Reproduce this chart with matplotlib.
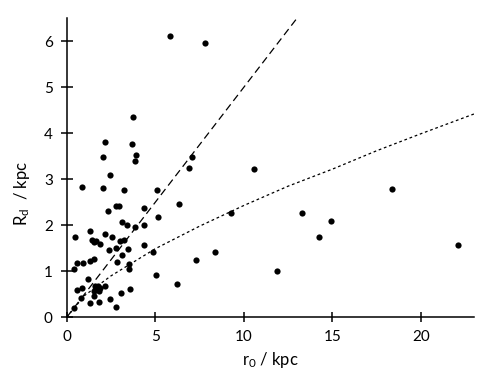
import matplotlib
matplotlib.use('Agg')
import matplotlib.pyplot as plt

plt.rcParams['font.family'] = ['Lato', 'DejaVu Sans']

# galaxies: scale radius r0 vs disc scale length Rd (kpc)
r0 = [5.84, 7.81, 3.76, 2.18, 3.70, 3.92, 2.07, 7.08, 3.87, 6.91,
      10.57, 2.46, 0.88, 2.07, 3.25, 5.11, 18.35, 6.35, 2.80, 2.93,
      4.38, 2.35, 9.28, 13.28, 5.16, 14.91, 3.14, 3.42, 4.38, 3.87,
      1.33, 2.18, 0.49, 2.57, 14.23, 1.45, 1.56, 1.67, 3.25, 3.02,
      1.86, 2.80, 4.38, 22.12, 2.40, 3.47, 4.88, 8.38, 3.14, 1.56,
      7.31, 1.33, 2.85, 0.60, 0.94, 3.53, 3.53, 0.43, 11.87, 5.05,
      6.23, 1.22, 2.18, 1.62, 1.78, 1.67, 1.90, 1.56, 1.84, 0.88,
      0.60, 3.59, 3.08, 1.56, 0.83, 2.46, 1.33, 1.84, 0.43, 2.80]
Rd = [6.11, 5.96, 4.35, 3.80, 3.76, 3.52, 3.48, 3.48, 3.39, 3.24,
      3.22, 3.09, 2.83, 2.80, 2.76, 2.76, 2.78, 2.46, 2.43, 2.43,
      2.37, 2.30, 2.26, 2.26, 2.17, 2.09, 2.07, 2.00, 2.00, 1.96,
      1.87, 1.80, 1.75, 1.74, 1.74, 1.67, 1.63, 1.65, 1.67, 1.65,
      1.59, 1.51, 1.57, 1.57, 1.46, 1.48, 1.43, 1.41, 1.35, 1.26,
      1.24, 1.22, 1.20, 1.17, 1.17, 1.15, 1.04, 1.04, 1.00, 0.92,
      0.72, 0.84, 0.67, 0.69, 0.67, 0.61, 0.63, 0.58, 0.57, 0.63,
      0.59, 0.61, 0.53, 0.47, 0.41, 0.39, 0.30, 0.33, 0.20, 0.22]

# model curves
dash_x = [0, 13]
dash_y = [0, 6.5]
dot_x = [0, 1, 2.5, 5, 7.5, 10, 12.5, 15, 17.5, 20, 23]
dot_y = [0, 0.47, 0.90, 1.49, 1.98, 2.43, 2.85, 3.22, 3.62, 3.99, 4.42]

fig = plt.figure(figsize=(4.93, 3.77), dpi=100)
ax = fig.add_axes([0.1353, 0.1584, 0.8262, 0.7931])

ax.plot(dash_x, dash_y, color='black', lw=0.9, dashes=(6, 3.5))
ax.plot(dot_x, dot_y, color='black', lw=0.9, dashes=(2.2, 2.2))
ax.scatter(r0, Rd, s=20, color='black', zorder=3, linewidths=0)

ax.set_xlim(0, 23)
ax.set_ylim(0, 6.5)
ax.set_xticks([0, 5, 10, 15, 20])
ax.set_yticks([0, 1, 2, 3, 4, 5, 6])

for s in ['top', 'right']:
    ax.spines[s].set_visible(False)
for s in ['left', 'bottom']:
    ax.spines[s].set_linewidth(1.1)

ax.tick_params(axis='y', direction='inout', length=8, width=1.1, pad=6, labelsize=11)
ax.tick_params(axis='x', direction='inout', length=6.5, width=1.1, pad=6, labelsize=11)

ax.set_xlabel(r'$\mathregular{r_0}$ / kpc', fontsize=12)
ax.set_ylabel(r'$\mathregular{R_d}$  / kpc', fontsize=12)
ax.xaxis.set_label_coords(0.5, -0.143, transform=ax.transAxes)
ax.xaxis.label.set_va('center')
ax.yaxis.set_label_coords(-0.11, 0.414, transform=ax.transAxes)
ax.yaxis.label.set_va('center')

fig.savefig('out.png', dpi=100)
